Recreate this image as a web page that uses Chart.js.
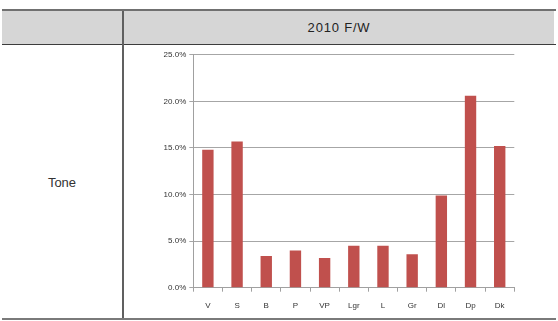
<!DOCTYPE html>
<html>
<head>
<meta charset="utf-8">
<script src="https://cdn.jsdelivr.net/npm/chart.js@4/dist/chart.umd.min.js"></script>
<style>
  html, body { margin: 0; padding: 0; background: #fff; }
  body { width: 558px; height: 321px; position: relative; overflow: hidden; font-family: "Liberation Sans", Arial, sans-serif; }
  .abs { position: absolute; }
  #topb { left: 2px; top: 9px; width: 554px; height: 2px; background: #707070; }
  #hbg { left: 2px; top: 11px; width: 552px; height: 33px; background: #d6d6d6; }
  #hline { left: 2px; top: 44px; width: 554px; height: 1px; background: #3c3c3c; }
  #vline { left: 122px; top: 11px; width: 2px; height: 308px; background: #606060; }
  #botb { left: 2px; top: 318px; width: 554px; height: 2px; background: #7a7a7a; }
  #title { left: 124px; top: 11px; width: 430px; height: 33px; line-height: 33px; text-align: center; font-size: 13px; color: #222; letter-spacing: 0.8px; }
  #tone { left: 2px; top: 174px; width: 120px; height: 18px; line-height: 18px; text-align: center; font-size: 13px; color: #333; }
  #wrap { left: 130px; top: 46px; width: 420px; height: 270px; }
</style>
</head>
<body>
<div class="abs" id="hbg"></div>
<div class="abs" id="topb"></div>
<div class="abs" id="hline"></div>
<div class="abs" id="vline"></div>
<div class="abs" id="botb"></div>
<div class="abs" id="title">2010 F/W</div>
<div class="abs" id="tone">Tone</div>
<div class="abs" id="wrap"><canvas id="c" width="420" height="270"></canvas></div>
<script>
const categories = ["V", "S", "B", "P", "VP", "Lgr", "L", "Gr", "Dl", "Dp", "Dk"];
const toneShare = [14.8, 15.7, 3.4, 4.0, 3.2, 4.5, 4.5, 3.6, 9.9, 20.6, 15.2];
const yTicks = [0, 5, 10, 15, 20, 25];

new Chart(document.getElementById("c"), {
  type: "bar",
  data: {
    labels: categories,
    datasets: [{
      data: toneShare,
      backgroundColor: "#c0504d",
      borderWidth: 0,
      barPercentage: 0.39,
      categoryPercentage: 1.0
    }]
  },
  options: {
    responsive: false,
    animation: false,
    devicePixelRatio: 1,
    layout: { padding: { left: 0, right: 35.7, top: 8.7, bottom: 0 } },
    plugins: { legend: { display: false }, tooltip: { enabled: false } },
    scales: {
      x: {
        grid: { display: true, drawOnChartArea: false, drawTicks: true, tickLength: 4, color: "#a0a0a0", offset: true },
        border: { display: true, color: "#a0a0a0", width: 1 },
        ticks: { color: "#333", font: { family: "Liberation Sans", size: 8 }, padding: 9, maxRotation: 0, autoSkip: false },
        afterFit: (s) => { s.height = 28.3; }
      },
      y: {
        min: 0, max: 25,
        afterBuildTicks: (s) => { s.ticks = yTicks.map(v => ({ value: v })); },
        grid: { color: "#a6a6a6", lineWidth: 1, drawTicks: true, tickLength: 4 },
        border: { display: true, color: "#a0a0a0", width: 1 },
        ticks: {
          color: "#333", font: { family: "Liberation Sans", size: 8 }, padding: 3,
          callback: (v) => Number(v).toFixed(1) + "%"
        },
        afterFit: (s) => { s.width = 63.3; }
      }
    }
  }
});
</script>
</body>
</html>
